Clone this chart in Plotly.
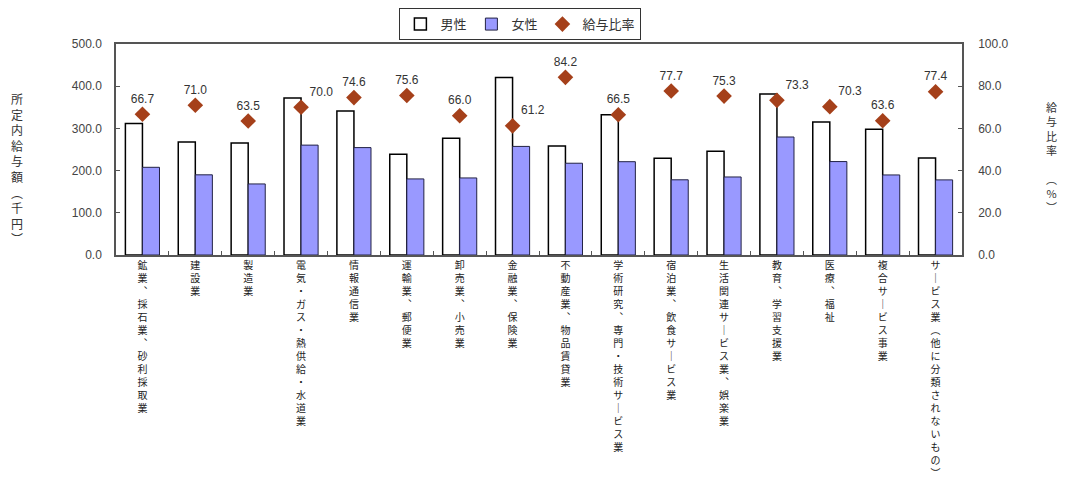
import plotly.graph_objects as go

# 産業別 所定内給与額（千円）と給与比率（%）
categories = [
    "鉱業、採石業、砂利採取業", "建設業", "製造業", "電気・ガス・熱供給・水道業",
    "情報通信業", "運輸業、郵便業", "卸売業、小売業", "金融業、保険業",
    "不動産業、物品賃貸業", "学術研究、専門・技術サービス業", "宿泊業、飲食サービス業",
    "生活関連サービス業、娯楽業", "教育、学習支援業", "医療、福祉", "複合サービス事業",
    "サービス業（他に分類されないもの）",
]
male = [311.6, 267.5, 265.2, 372.0, 341.2, 238.5, 276.7, 420.5,
        258.3, 332.4, 229.3, 245.6, 381.5, 315.0, 298.2, 230.0]
female = [207.8, 190.0, 168.4, 260.4, 254.5, 180.3, 182.6, 257.3,
          217.5, 221.1, 178.2, 184.9, 279.6, 221.4, 189.7, 178.0]
ratio = [66.7, 71.0, 63.5, 70.0, 74.6, 75.6, 66.0, 61.2,
         84.2, 66.5, 77.7, 75.3, 73.3, 70.3, 63.6, 77.4]
label_pos = ["top center", "top center", "top center", "top right", "top center",
             "top center", "top center", "top right", "top center", "top center",
             "top center", "top center", "top right", "top right", "top center",
             "top center"]

FONT = "Liberation Sans, Noto Sans CJK JP, sans-serif"
JP = "Noto Sans CJK JP, sans-serif"

# 縦書き用の字形に置き換えて1文字ずつ改行
vert_map = {"、": "︑", "ー": "｜", "（": "︵", "）": "︶"}


def tate(s):
    return "<br>".join(vert_map.get(c, c) for c in s)


ticktext = [tate(c) for c in categories]

fig = go.Figure()
fig.add_trace(go.Bar(
    x=categories, y=male, name="男性",
    marker=dict(color="white", line=dict(color="black", width=1.5)),
))
fig.add_trace(go.Bar(
    x=categories, y=female, name="女性",
    marker=dict(color="#9999FF", line=dict(color="#222244", width=1)),
))
fig.add_trace(go.Scatter(
    x=categories, y=ratio, name="給与比率", yaxis="y2",
    mode="markers+text",
    marker=dict(symbol="diamond", size=12, color="#A5401A"),
    texttemplate="%{y:.1f}", textposition=label_pos,
    textfont=dict(size=12, color="#333333", family=FONT),
))

# ページ本体の余白(8px)を見込んだ大きさ
fig.update_layout(
    width=1051, height=473,
    margin=dict(l=108, r=97, t=36, b=226, autoexpand=False),
    paper_bgcolor="white", plot_bgcolor="white",
    font=dict(family=FONT, size=12, color="#333333"),
    barmode="group", bargap=0.355, bargroupgap=0,
    showlegend=True,
    legend=dict(
        orientation="h", x=0.478, xanchor="center", y=1.17, yanchor="top",
        bordercolor="#333333", borderwidth=1, font=dict(size=13, family=JP),
        itemwidth=30, traceorder="normal",
    ),
    xaxis=dict(
        tickmode="array", tickvals=categories, ticktext=ticktext,
        range=[-0.5, len(categories) - 0.5], autorange=False,
        tickangle=0, tickfont=dict(size=10, family=JP, color="#222222"),
        ticks="inside", tickson="boundaries", ticklen=4, tickcolor="#555555",
        showline=True, linecolor="#555555", linewidth=1.5, mirror=True,
        showgrid=False,
    ),
    yaxis=dict(
        range=[0, 500], dtick=100, tickformat=".1f",
        ticks="inside", ticklen=4, tickcolor="#555555",
        showline=True, linecolor="#555555", linewidth=1.5,
        showgrid=False, zeroline=False, ticklabelstandoff=10,
        tickfont=dict(size=12, color="#444444"),
    ),
    yaxis2=dict(
        range=[0, 100], dtick=20, tickformat=".1f", overlaying="y", side="right",
        ticks="inside", ticklen=4, tickcolor="#555555",
        showline=True, linecolor="#555555", linewidth=1.5,
        showgrid=False, zeroline=False, ticklabelstandoff=12,
        tickfont=dict(size=12, color="#444444"),
    ),
)

fig.add_annotation(
    xref="paper", yref="paper", x=-0.117, y=0.41, xanchor="center", yanchor="middle",
    text=tate("所定内給与額（千円）"), showarrow=False,
    font=dict(size=12, family=JP, color="#333333"),
)
fig.add_annotation(
    xref="paper", yref="paper", x=1.106, y=0.464, xanchor="center", yanchor="middle",
    text=tate("給与比率") + "<br> <br>" + tate("（%）"), showarrow=False,
    font=dict(size=11, family=JP, color="#333333"),
)

fig.write_html("out.html")
